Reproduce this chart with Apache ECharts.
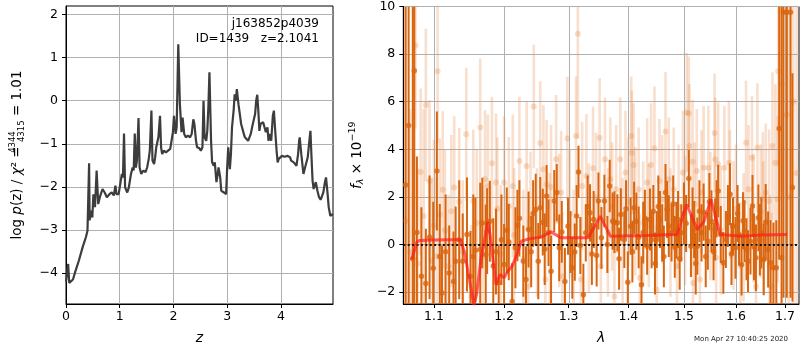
<!DOCTYPE html>
<html>
<head>
<meta charset="utf-8">
<script src="https://cdn.jsdelivr.net/npm/echarts@6/dist/echarts.min.js"></script>
<style>
html, body { margin: 0; padding: 0; background: #fff; }
#wrap { position: relative; width: 800px; height: 350px; }
#pz { position: absolute; left: 0; top: 0; width: 340px; height: 350px; }
#spec { position: absolute; left: 340px; top: 0; width: 460px; height: 350px; }
</style>
</head>
<body>
<div id="wrap"><div id="pz"></div><div id="spec"></div></div>
<script>
// ---- redshift probability curve ----
const zGrid = [0.00,0.02,0.04,0.06,0.09,0.13,0.17,0.24,0.31,0.37,0.40,0.43,0.44,0.46,0.49,0.51,0.54,0.57,0.60,0.63,0.68,0.72,0.76,0.81,0.85,0.89,0.92,0.94,0.98,1.01,1.04,1.06,1.08,1.10,1.14,1.17,1.21,1.24,1.26,1.28,1.30,1.32,1.35,1.37,1.40,1.44,1.48,1.51,1.54,1.56,1.59,1.61,1.64,1.66,1.68,1.72,1.75,1.77,1.79,1.82,1.86,1.90,1.94,1.97,1.99,2.01,2.04,2.06,2.09,2.12,2.15,2.17,2.20,2.23,2.27,2.31,2.34,2.37,2.39,2.42,2.44,2.48,2.51,2.54,2.56,2.58,2.61,2.63,2.65,2.67,2.70,2.72,2.75,2.77,2.80,2.82,2.84,2.87,2.89,2.92,2.94,2.98,3.00,3.02,3.05,3.07,3.09,3.12,3.14,3.16,3.18,3.19,3.21,3.24,3.26,3.28,3.31,3.33,3.36,3.39,3.42,3.44,3.47,3.49,3.52,3.54,3.56,3.58,3.60,3.62,3.65,3.67,3.70,3.72,3.75,3.77,3.79,3.82,3.85,3.87,3.89,3.92,3.94,3.96,3.99,4.02,4.04,4.07,4.10,4.12,4.15,4.17,4.19,4.22,4.24,4.27,4.29,4.32,4.34,4.35,4.38,4.40,4.42,4.45,4.47,4.50,4.53,4.55,4.57,4.59,4.61,4.63,4.65,4.67,4.68,4.71,4.74,4.77,4.79,4.82,4.84,4.87,4.89,4.92,4.95,4.97];
const logPz = [-4.20,-4.23,-3.79,-4.23,-4.24,-4.15,-3.98,-3.71,-3.40,-3.17,-3.02,-1.45,-2.78,-2.55,-2.71,-2.17,-2.47,-1.62,-2.40,-2.24,-2.05,-2.13,-2.24,-2.17,-2.13,-2.20,-1.97,-2.17,-2.17,-2.13,-1.70,-1.78,-0.76,-2.01,-2.13,-2.01,-1.70,-1.55,-1.62,-0.76,-1.55,-1.39,-0.40,-1.55,-1.70,-1.62,-1.66,-1.55,-1.35,-1.16,-0.23,-1.39,-1.47,-1.31,-1.08,-0.85,-0.35,-1.08,-1.24,-1.16,-1.20,-1.16,-1.12,-1.08,-0.73,-0.35,-0.77,-0.62,1.31,-0.08,-0.73,-0.39,-0.77,-0.85,-0.81,-0.85,-0.77,-0.43,-0.54,-0.93,-1.08,-1.10,-1.16,-1.08,0.00,-0.85,-0.93,-0.70,-0.15,0.66,-0.93,-1.43,-1.51,-1.43,-1.89,-1.74,-1.55,-1.78,-2.09,-2.05,-2.13,-2.17,-1.55,-1.08,-1.59,-1.24,-0.62,-0.23,0.15,0.00,0.27,0.27,-0.08,-0.35,-0.54,-0.58,-0.77,-0.85,-0.89,-0.93,-0.89,-0.77,-0.58,-0.54,-0.31,0.00,0.14,-0.23,-0.70,-0.54,-0.50,-0.50,-0.54,-0.73,-0.62,-0.93,-0.77,-0.93,-0.35,-0.23,-0.62,-1.16,-1.43,-1.35,-1.38,-1.28,-1.31,-1.30,-1.31,-1.28,-1.31,-1.31,-1.39,-1.38,-1.43,-1.47,-1.51,-1.24,-0.93,-0.85,-1.24,-1.47,-1.70,-1.55,-1.55,-1.31,-0.93,-0.70,-1.31,-1.86,-2.05,-2.09,-1.89,-1.89,-2.09,-2.24,-2.30,-2.28,-2.13,-1.89,-1.78,-2.17,-2.47,-2.67,-2.67,-2.63];
const zTicks = [0, 1, 2, 3, 4];
const pzTicks = [-4, -3, -2, -1, 0, 1, 2];

// ---- 1D spectrum: primary extraction (dark) ----
const darkLam = [1.062,1.066,1.0715,1.0735,1.077,1.083,1.089,1.094,1.099,1.104,1.108,1.111,1.116,1.121,1.127,1.130,1.135,1.140,1.146,1.151,1.155,1.158,1.165,1.168,1.173,1.175,1.179,1.184,1.188,1.192,1.196,1.200,1.204,1.207,1.212,1.217,1.220,1.223,1.229,1.233,1.237,1.241,1.244,1.248,1.252,1.255,1.259,1.262,1.265,1.268,1.272,1.277,1.281,1.285,1.289,1.294,1.299,1.303,1.306,1.310,1.313,1.316,1.319,1.324,1.328,1.331,1.335,1.338,1.341,1.346,1.349,1.354,1.359,1.364,1.368,1.373,1.376,1.381,1.384,1.387,1.393,1.396,1.399,1.404,1.407,1.410,1.414,1.418,1.423,1.426,1.429,1.433,1.438,1.441,1.444,1.447,1.450,1.453,1.456,1.460,1.463,1.466,1.469,1.472,1.477,1.480,1.483,1.486,1.489,1.492,1.495,1.500,1.504,1.509,1.513,1.516,1.519,1.522,1.525,1.529,1.533,1.537,1.541,1.545,1.548,1.552,1.556,1.559,1.562,1.565,1.570,1.575,1.580,1.584,1.588,1.591,1.594,1.599,1.603,1.606,1.611,1.614,1.617,1.621,1.624,1.629,1.633,1.636,1.640,1.645,1.648,1.651,1.656,1.660,1.665,1.670,1.676,1.682,1.688,1.693,1.697,1.704,1.712,1.716];
const darkFlux = [2.5,5.0,-0.6,7.3,0.5,-1.33,-1.64,0.3,-1.0,3.09,-0.5,-2.04,-0.3,-1.2,-1.55,-0.70,0.2,-0.70,0.42,-1.33,-0.5,-0.24,-0.21,0.9,-0.42,0.56,0.98,-0.9,-0.3,-1.61,0.2,-0.84,0.6,0.10,-2.39,-0.14,0.8,1.10,-0.70,-1.47,0.63,-0.3,1.3,1.47,-0.70,1.54,0.94,-0.2,2.04,0.5,-1.12,1.83,2.18,-0.14,0.53,-1.55,0.77,0.1,-0.98,-0.32,1.2,3.05,-0.04,-2.11,0.49,1.6,1.33,-0.4,1.05,-0.46,1.83,0.28,1.83,0.00,2.46,0.98,0.94,0.91,-0.6,1.26,0.21,1.5,-1.59,0.77,-0.3,1.54,0.98,0.3,-1.69,0.5,1.10,-0.07,1.05,0.2,1.40,-0.8,0.21,1.6,1.05,0.49,-0.5,2.18,1.47,0.77,0.49,1.7,-0.10,0.6,1.05,-0.6,0.49,1.3,0.88,2.77,-0.07,1.2,0.63,-0.8,-0.07,1.4,0.49,1.36,-0.5,0.14,1.8,0.98,-0.3,0.63,1.5,2.25,0.42,-0.77,0.21,1.2,2.11,-0.4,0.77,-0.14,1.3,0.42,-0.84,1.0,0.56,-0.2,-0.70,0.14,1.62,-0.1,-0.56,1.12,0.2,0.49,-0.63,0.94,-0.21,-0.77,-0.98,-0.98,4.87,-0.56,9.76,9.76,9.76,2.4];
const darkErr = [14,12,11,10,3.2,2.9,2.3,2.6,2.8,2.5,2.2,2.0,2.4,2.0,2.1,2.3,2.5,2.0,2.4,1.9,2.6,2.2,2.8,1.9,2.1,1.8,1.7,2.0,1.8,1.6,1.9,1.7,1.8,1.6,1.6,1.7,1.5,1.6,1.5,1.4,1.6,1.5,1.4,1.5,1.6,1.3,1.4,1.5,1.3,1.4,1.5,1.3,1.2,1.4,1.3,1.4,1.2,1.3,1.3,1.2,1.3,1.1,1.2,1.3,1.2,1.3,1.2,1.3,1.2,1.3,1.2,1.3,1.1,1.2,1.1,1.2,1.3,1.2,1.3,1.1,1.2,1.2,1.3,1.2,1.3,1.1,1.2,1.3,1.2,1.3,1.2,1.2,1.3,1.2,1.1,1.3,1.2,1.3,1.2,1.2,1.3,1.2,1.2,1.3,1.2,1.2,1.3,1.2,1.2,1.3,1.2,1.3,1.2,1.2,1.3,1.2,1.2,1.3,1.2,1.3,1.2,1.2,1.3,1.2,1.2,1.3,1.2,1.3,1.2,1.1,1.2,1.3,1.2,1.3,1.3,1.3,1.2,1.3,1.2,1.3,1.3,1.2,1.3,1.3,1.3,1.4,1.3,1.4,1.4,1.4,1.5,1.5,1.5,1.6,1.6,1.8,1.9,2.0,5.5,11,12,12,12,4.8];

// ---- 1D spectrum: secondary extraction (light) ----
const lightLam = [1.062,1.068,1.075,1.078,1.082,1.086,1.089,1.094,1.097,1.100,1.104,1.105,1.108,1.112,1.115,1.120,1.124,1.128,1.135,1.140,1.145,1.152,1.155,1.160,1.165,1.169,1.172,1.176,1.182,1.188,1.190,1.195,1.200,1.207,1.213,1.215,1.223,1.229,1.234,1.236,1.240,1.245,1.250,1.255,1.260,1.263,1.265,1.270,1.272,1.280,1.285,1.288,1.290,1.298,1.302,1.308,1.312,1.315,1.320,1.322,1.329,1.333,1.340,1.345,1.351,1.353,1.360,1.365,1.369,1.372,1.376,1.379,1.386,1.390,1.395,1.400,1.405,1.406,1.409,1.412,1.418,1.420,1.426,1.433,1.436,1.440,1.446,1.450,1.455,1.460,1.466,1.472,1.475,1.481,1.487,1.490,1.498,1.502,1.505,1.509,1.510,1.516,1.517,1.520,1.524,1.530,1.533,1.537,1.546,1.550,1.558,1.559,1.561,1.565,1.570,1.577,1.586,1.588,1.595,1.600,1.609,1.615,1.620,1.625,1.632,1.635,1.640,1.643,1.650,1.654,1.655,1.660,1.667,1.668,1.672,1.674,1.680,1.685,1.686,1.693,1.704,1.708,1.718,1.725];
const lightFlux = [1.0,-0.3,8.36,-0.8,3.05,1.2,5.86,2.67,-0.7,0.8,-0.49,7.28,1.26,2.3,0.6,-0.91,1.4,2.39,1.8,-0.3,4.63,-2.18,1.83,0.9,4.92,-0.5,2.74,2.46,3.41,2.60,1.5,-0.4,2.60,1.62,2.46,0.4,3.51,-0.6,3.30,-1.76,1.1,5.80,0.5,4.26,3.16,-1.47,2.53,0.2,2.42,3.58,1.0,2.18,-1.33,4.45,1.3,-0.5,4.56,8.85,-1.47,2.46,2.88,0.7,3.2,2.0,4.49,-0.91,3.58,0.5,2.74,1.6,-2.18,2.32,3.58,0.1,3.02,1.8,4.56,3.86,3.34,1.4,2.32,-1.40,0.9,2.60,0.8,3.34,4.04,-1.90,2.67,1.9,4.75,2.74,0.5,2.32,-0.91,1.6,3.02,1.0,5.55,5.50,4.14,3.48,-1.62,1.7,3.09,-1.47,2.2,3.23,3.23,1.2,4.68,3.58,-0.56,3.37,0.6,3.23,3.44,2.10,0.8,1.5,-0.91,0.3,4.28,2.32,3.65,1.1,-1.76,4.07,1.4,1.92,0.7,2.18,1.83,-0.91,-1.76,4.14,3.44,1.9,7.28,6.74,5.45,2.0,6.0,3.0];
const lightErr = [9,6,3.5,4,3.5,4.5,3.2,3.4,3.5,3.6,3.3,3.0,3.2,3.3,3.4,3.0,3.2,3.0,3.1,3.0,2.8,3.0,3.0,3.1,2.9,3.0,2.9,3.0,2.8,2.9,3.0,2.9,2.8,2.9,3.0,2.8,2.7,2.9,2.7,2.8,2.8,2.6,2.7,2.6,2.7,2.8,2.7,2.8,2.6,2.7,2.8,2.6,2.7,2.6,2.7,2.8,2.5,4.4,2.6,2.7,2.6,2.7,2.6,2.7,2.5,2.6,2.6,2.7,2.6,2.7,2.6,2.7,2.6,2.7,2.6,2.7,2.5,2.6,2.6,2.7,2.6,2.7,2.6,2.7,2.6,2.6,2.6,2.7,2.6,2.7,2.5,2.6,2.7,2.6,2.7,2.6,2.6,2.7,2.5,2.4,2.6,2.6,2.7,2.6,2.6,2.7,2.6,2.6,2.6,2.7,2.5,2.6,2.7,2.6,2.7,2.6,2.6,2.7,2.7,2.7,2.7,2.7,2.6,2.7,2.6,2.7,2.8,2.7,2.8,2.8,2.8,2.9,3.0,3.0,3.1,3.1,3.3,3.5,4.0,4.5,5.0,8,9,10];

// ---- best-fit template ----
const modelLam = [1.070,1.077,1.081,1.100,1.120,1.137,1.143,1.156,1.160,1.166,1.176,1.179,1.188,1.194,1.200,1.205,1.212,1.218,1.226,1.237,1.257,1.272,1.288,1.332,1.352,1.369,1.430,1.487,1.505,1.525,1.538,1.551,1.569,1.611,1.650,1.705];
const modelFlux = [-0.63,0.11,0.17,0.19,0.20,0.20,-0.40,-2.55,-2.03,-0.63,0.95,0.50,-1.69,-1.26,-1.40,-1.15,-0.91,-0.50,0.14,0.23,0.32,0.53,0.28,0.28,1.19,0.35,0.38,0.42,1.68,0.63,0.98,1.90,0.42,0.35,0.40,0.42];

const lamTicks = [1.1, 1.2, 1.3, 1.4, 1.5, 1.6, 1.7];
const fluxTicks = [-2, 0, 2, 4, 6, 8, 10];

const FONT = 'DejaVu Sans';
const DARK = '#d9650f';
const GRID_COLOR = '#b0b0b0';
const withMinus = v => String(v).replace('-', '\u2212');

function axisCommon(ticks, nativeGrid, margin) {
  return {
    axisLine: { show: true, onZero: false, lineStyle: { color: '#000', width: 1 } },
    axisTick: { show: true, customValues: ticks, length: 4, lineStyle: { color: '#000', width: 1 } },
    axisLabel: { customValues: ticks, formatter: withMinus, color: '#000', fontSize: 12.5, fontFamily: FONT, margin: margin },
    splitLine: { show: nativeGrid, lineStyle: { color: GRID_COLOR, width: 1 } }
  };
}

const frame = { show: true, borderColor: '#000', borderWidth: 1, backgroundColor: 'transparent' };

// ===== left panel: log p(z) =====
const pzChart = echarts.init(document.getElementById('pz'), null, { renderer: 'canvas' });
pzChart.setOption({
  animation: false,
  backgroundColor: '#fff',
  grid: [Object.assign({ left: 62, top: 6, width: 271, height: 298 }, frame)],
  xAxis: [Object.assign({ type: 'value', min: 0, max: 4.97, splitNumber: 5,
    name: 'z', nameLocation: 'middle', nameGap: 27,
    nameTextStyle: { fontFamily: FONT, fontSize: 14, fontStyle: 'italic', color: '#000' } }, axisCommon(zTicks, true, 6))],
  yAxis: [Object.assign({ type: 'value', min: -4.72, max: 2.2, splitNumber: 6,
    name: '{n|log }{i|p}{n|(z) / }{i|χ}{n|² = }{num|4344}{den|4315}{n| = 1.01}',
    nameLocation: 'middle', nameGap: 40,
    nameTextStyle: { rich: {
      n: { fontFamily: FONT, fontSize: 13.5, color: '#000', lineHeight: 18 },
      i: { fontFamily: FONT, fontSize: 13.5, fontStyle: 'italic', color: '#000', lineHeight: 18 },
      num: { fontFamily: FONT, fontSize: 8.5, color: '#000', verticalAlign: 'top', width: 0.01, align: 'left' },
      den: { fontFamily: FONT, fontSize: 8.5, color: '#000', verticalAlign: 'bottom' }
    } } }, axisCommon(pzTicks, true, 8))],
  series: [{
    type: 'line', z: 3, silent: true, showSymbol: false, symbol: 'none',
    data: zGrid.map((z, i) => [z, logPz[i]]),
    lineStyle: { color: '#3d3d3d', width: 2.2 }
  }],
  graphic: [
    { type: 'text', x: 319, y: 23.5, z: 100,
      style: { text: 'j163852p4039', font: '12px "DejaVu Sans"', fill: '#000', textAlign: 'right', textVerticalAlign: 'middle' } },
    { type: 'text', x: 319, y: 38.5, z: 100,
      style: { text: 'ID=1439   z=2.1041', font: '12px "DejaVu Sans"', fill: '#000', textAlign: 'right', textVerticalAlign: 'middle' } }
  ]
});

// ===== right panel: spectrum =====
// vertical grid lines at the wavelength ticks (log axis), beneath the data
function lamGridLines(ticks, yRef) {
  return {
    type: 'custom', z: 1, silent: true, clip: false,
    data: ticks.map(v => [v, yRef]),
    encode: { x: 0, y: 1 },
    renderItem: function (params, api) {
      const p = api.coord([api.value(0), api.value(1)]);
      const cs = params.coordSys;
      const x = Math.round(p[0]) + 0.5;
      return { type: 'line', shape: { x1: x, y1: cs.y, x2: x, y2: cs.y + cs.height }, style: { stroke: GRID_COLOR, lineWidth: 1 } };
    }
  };
}

function errorBars(lam, flux, err, color, w, z) {
  return {
    type: 'custom', z: z, silent: true, clip: true,
    data: lam.map((l, i) => [l, flux[i] - err[i], flux[i] + err[i]]),
    encode: { x: 0, y: [1, 2] },
    renderItem: function (params, api) {
      const lo = api.coord([api.value(0), api.value(1)]);
      const hi = api.coord([api.value(0), api.value(2)]);
      const cs = params.coordSys;
      const top = Math.max(hi[1], cs.y);
      const bot = Math.min(lo[1], cs.y + cs.height);
      if (bot <= top) return null;
      return { type: 'rect', shape: { x: lo[0] - w / 2, y: top, width: w, height: bot - top }, style: { fill: color } };
    }
  };
}

const specChart = echarts.init(document.getElementById('spec'), null, { renderer: 'canvas' });
specChart.setOption({
  animation: false,
  backgroundColor: '#fff',
  grid: [Object.assign({ left: 51, top: 6, width: 408, height: 298 }, frame)],
  xAxis: [Object.assign({ type: 'log', logBase: 10, min: 1.059, max: 1.730,
    name: 'λ', nameLocation: 'middle', nameGap: 27,
    nameTextStyle: { fontFamily: FONT, fontSize: 14, fontStyle: 'italic', color: '#000' } }, axisCommon(lamTicks, false, 6))],
  yAxis: [Object.assign({ type: 'value', min: -2.5, max: 10, splitNumber: 6,
    name: '{i|f}{sub|λ}{n| × 10}{sup|−19}',
    nameLocation: 'middle', nameGap: 34,
    nameTextStyle: { rich: {
      n: { fontFamily: FONT, fontSize: 13.5, color: '#000', lineHeight: 18 },
      i: { fontFamily: FONT, fontSize: 13.5, fontStyle: 'italic', color: '#000', lineHeight: 18 },
      sub: { fontFamily: FONT, fontSize: 9.5, fontStyle: 'italic', color: '#000', verticalAlign: 'bottom' },
      sup: { fontFamily: FONT, fontSize: 9.5, color: '#000', verticalAlign: 'top' }
    } } }, axisCommon(fluxTicks, true, 8))],
  series: [
    lamGridLines(lamTicks, fluxTicks[1]),
    errorBars(lightLam, lightFlux, lightErr, 'rgba(232,140,75,0.28)', 2.6, 2),
    {
      type: 'scatter', z: 3, silent: true, symbolSize: 6,
      data: lightLam.map((l, i) => [l, lightFlux[i]]),
      itemStyle: { color: 'rgba(228,128,55,0.32)' }
    },
    errorBars(darkLam, darkFlux, darkErr, DARK, 2.0, 4),
    {
      type: 'scatter', z: 5, silent: true, symbolSize: 5.5,
      data: darkLam.map((l, i) => [l, darkFlux[i]]),
      itemStyle: { color: DARK }
    },
    {
      type: 'line', z: 6, silent: true, showSymbol: false, symbol: 'none',
      data: modelLam.map((l, i) => [l, modelFlux[i]]),
      lineStyle: { color: 'rgba(255,25,25,0.68)', width: 3 }
    },
    {
      type: 'line', z: 7, silent: true, data: [],
      markLine: {
        silent: true, symbol: 'none', label: { show: false },
        lineStyle: { color: '#111', width: 2, type: [2, 2.4] },
        data: [{ yAxis: 0 }]
      }
    }
  ],
  graphic: [
    { type: 'text', x: 448, y: 339.5, z: 100,
      style: { text: 'Mon Apr 27 10:40:25 2020', font: '7px "DejaVu Sans"', fill: '#222', textAlign: 'right', textVerticalAlign: 'middle' } }
  ]
});
</script>
</body>
</html>
